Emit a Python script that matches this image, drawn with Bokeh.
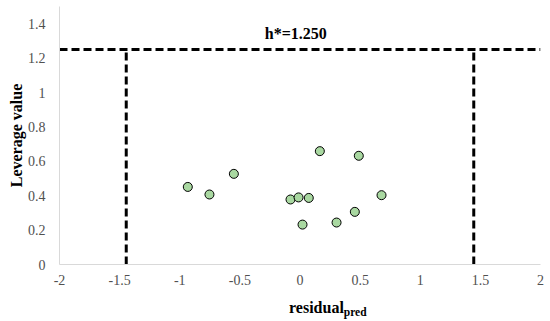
from bokeh.plotting import figure
from bokeh.models import Range1d, FixedTicker, Label, Div
from bokeh.layouts import column
from bokeh.embed import file_html
from bokeh.resources import INLINE

# data
residual = [-0.933, -0.753, -0.550, -0.079, -0.012, 0.073, 0.678, 0.456, 0.021, 0.304, 0.165, 0.489]
leverage = [0.451, 0.407, 0.527, 0.378, 0.390, 0.387, 0.403, 0.306, 0.232, 0.244, 0.659, 0.632]
h_star = 1.25
res_limit = 1.445
x_ticks = [-2, -1.5, -1, -0.5, 0, 0.5, 1, 1.5, 2]
x_tick_labels = ["-2", "-1.5", "-1", "-0.5", "0", "0.5", "1", "1.5", "2"]
y_ticks = [0, 0.2, 0.4, 0.6, 0.8, 1.0, 1.2, 1.4]
y_tick_labels = ["0", "0.2", "0.4", "0.6", "0.8", "1", "1.2", "1.4"]
x_title = "residual"
x_title_sub = "pred"

SERIF = "Liberation Serif"

p = figure(width=550, height=294, output_backend="svg", toolbar_location=None,
           x_range=Range1d(-2, 2), y_range=Range1d(0, 1.5),
           min_border_left=59, min_border_right=10, min_border_top=6, min_border_bottom=30)
p.outline_line_color = None
p.xgrid.grid_line_color = None
p.ygrid.grid_line_color = None

p.axis.axis_line_color = "#d9d9d9"
p.axis.axis_line_width = 1
p.axis.major_tick_line_color = None
p.axis.minor_tick_line_color = None
p.axis.major_tick_out = 0
p.axis.major_tick_in = 0
p.axis.minor_tick_out = 0
p.axis.minor_tick_in = 0
p.axis.major_label_text_font = "Times New Roman"
p.axis.major_label_text_font_size = "14px"
p.axis.major_label_text_color = "#505050"

p.xaxis.ticker = FixedTicker(ticks=x_ticks)
p.xaxis.major_label_overrides = {t: l for t, l in zip(x_ticks, x_tick_labels)}
p.xaxis.major_label_standoff = 10

p.yaxis.ticker = FixedTicker(ticks=y_ticks)
p.yaxis.major_label_overrides = {t: l for t, l in zip(y_ticks, y_tick_labels)}
p.yaxis.major_label_standoff = 14
p.yaxis.axis_label = "Leverage value"
p.yaxis.axis_label_text_font = SERIF
p.yaxis.axis_label_text_font_style = "bold"
p.yaxis.axis_label_text_font_size = "16px"
p.yaxis.axis_label_text_color = "black"
p.yaxis.axis_label_standoff = 0

# threshold lines
p.line(x=[x_ticks[0], x_ticks[-1]], y=[h_star, h_star], line_color="black",
       line_width=3, line_dash="8 4")
p.line(x=[-res_limit, -res_limit], y=[0, h_star], line_color="black",
       line_width=3, line_dash="8 4")
p.line(x=[res_limit, res_limit], y=[0, h_star], line_color="black",
       line_width=3, line_dash="8 4")

p.scatter(residual, leverage, size=9, marker="circle", fill_color="#a9d8a1",
          line_color="black", line_width=1)

p.add_layout(Label(x=-0.035, y=1.343, text="h*=%.3f" % h_star, text_font=SERIF,
                   text_font_style="bold", text_font_size="16px", text_color="black",
                   text_align="center", text_baseline="alphabetic"))

# x-axis title with subscript, as HTML text below the plot
title_html = ('<div style="font-family:\'Liberation Serif\';font-weight:bold;font-size:16px;'
              'color:black;line-height:18px;padding-left:284px;padding-top:0px;white-space:nowrap">'
              '%s<sub style="font-size:11.5px;vertical-align:-3px;line-height:0">%s</sub></div>'
              % (x_title, x_title_sub))
div = Div(text=title_html, width=550, height=27)

layout = column(p, div, spacing=0)
open("out.html", "w").write(file_html(layout, INLINE))
